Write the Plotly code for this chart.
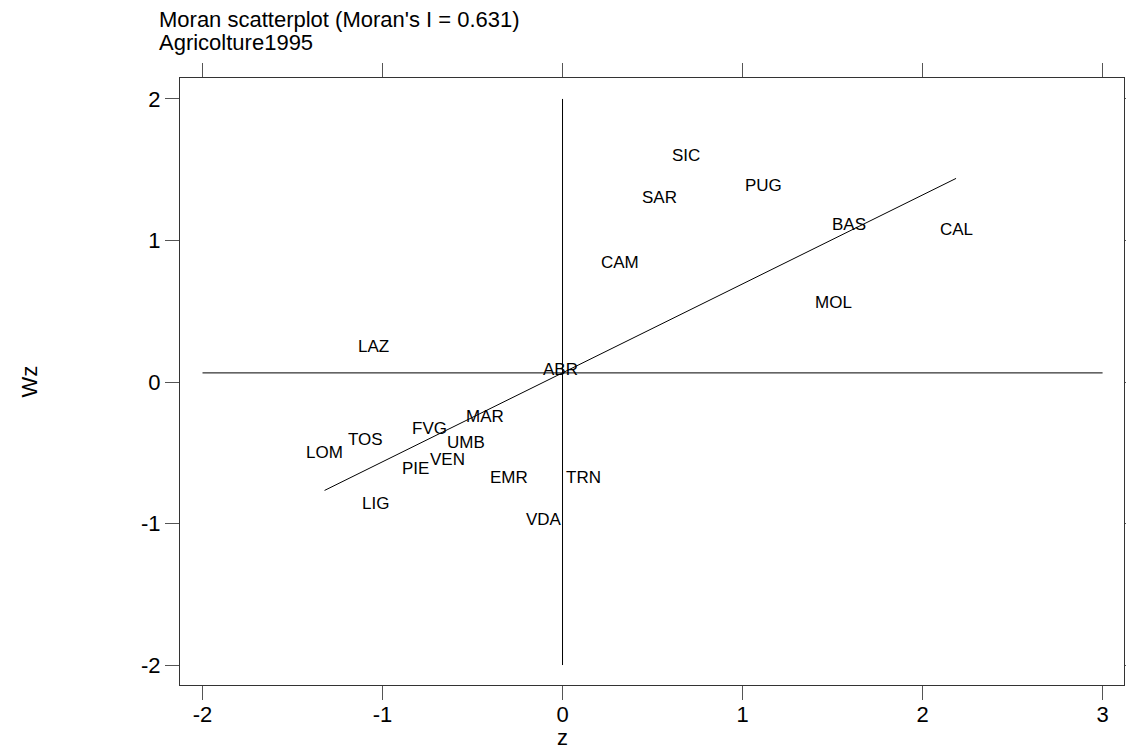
import numpy as np
import plotly.graph_objects as go

# Regions (labels) and standardized values
regions = ["SIC", "PUG", "SAR", "BAS", "CAL", "CAM", "MOL", "LAZ", "ABR", "MAR",
           "FVG", "TOS", "UMB", "LOM", "VEN", "PIE", "EMR", "TRN", "LIG", "VDA"]
z = [0.685, 1.117, 0.539, 1.593, 2.186, 0.318, 1.507, -1.051, -0.014, -0.431,
     -0.739, -1.092, -0.536, -1.322, -0.637, -0.817, -0.296, 0.119, -1.038, -0.102]
wz = [1.567, 1.352, 1.267, 1.080, 1.039, 0.810, 0.523, 0.215, 0.055, -0.277,
      -0.364, -0.445, -0.465, -0.533, -0.580, -0.643, -0.708, -0.708, -0.892, -1.007]

x_ticks = [-2, -1, 0, 1, 2, 3]
y_ticks = [-2, -1, 0, 1, 2]
title_lines = ["Moran scatterplot (Moran's I = 0.631)", "Agricolture1995"]

FONT = "Liberation Sans, Arial, sans-serif"

z_arr = np.array(z)
wz_arr = np.array(wz)
slope, intercept = np.polyfit(z_arr, wz_arr, 1)
mean_wz = wz_arr.mean()
mean_z = 0.0

fig = go.Figure()

# horizontal reference line at mean(Wz)
fig.add_trace(go.Scatter(x=[min(x_ticks), max(x_ticks)], y=[mean_wz, mean_wz],
                         mode="lines", line=dict(color="black", width=1),
                         hoverinfo="skip", showlegend=False))
# vertical reference line at mean(z)
fig.add_trace(go.Scatter(x=[mean_z, mean_z], y=[min(y_ticks), max(y_ticks)],
                         mode="lines", line=dict(color="black", width=1),
                         hoverinfo="skip", showlegend=False))
# regression line
xr = np.array([z_arr.min(), z_arr.max()])
fig.add_trace(go.Scatter(x=xr, y=intercept + slope * xr,
                         mode="lines", line=dict(color="black", width=1),
                         hoverinfo="skip", showlegend=False))

# region labels
for name, xv, yv in zip(regions, z, wz):
    fig.add_annotation(x=xv, y=yv, text=name, showarrow=False,
                       xanchor="center", yanchor="middle", yshift=5,
                       font=dict(family=FONT, size=17, color="black"))

# title
fig.add_annotation(xref="paper", yref="paper", x=-0.0244, y=1.097, text=title_lines[0],
                   showarrow=False, xanchor="left", yanchor="middle",
                   font=dict(family=FONT, size=22, color="black"))
fig.add_annotation(xref="paper", yref="paper", x=-0.0244, y=1.059, text=title_lines[1],
                   showarrow=False, xanchor="left", yanchor="middle",
                   font=dict(family=FONT, size=22, color="black"))
# axis titles
fig.add_annotation(xref="x", yref="paper", x=0, y=-0.087, text="z",
                   showarrow=False, xanchor="center", yanchor="middle",
                   font=dict(family=FONT, size=22, color="black"))
fig.add_annotation(xref="paper", yref="paper", x=-0.159, y=0.5, text="Wz", textangle=-90,
                   showarrow=False, xanchor="center", yanchor="middle",
                   font=dict(family=FONT, size=22, color="black"))

axis_common = dict(showgrid=False, zeroline=False, showline=True, linecolor="#333333",
                   linewidth=1, mirror="ticks", ticks="outside", ticklen=14,
                   tickcolor="#555555", tickwidth=1, automargin=False,
                   tickfont=dict(family=FONT, size=22, color="black"))

fig.update_layout(
    width=1126, height=749,
    margin=dict(l=180, r=2, t=78, b=64),
    paper_bgcolor="white", plot_bgcolor="white",
    xaxis=dict(range=[-2.125, 3.119], tickvals=x_ticks, ticktext=[str(v) for v in x_ticks],
               ticklabelstandoff=-4, **axis_common),
    yaxis=dict(range=[-2.141, 2.148], tickvals=y_ticks, ticktext=[str(v) for v in y_ticks],
               **axis_common),
)

fig.write_html("out.html")
